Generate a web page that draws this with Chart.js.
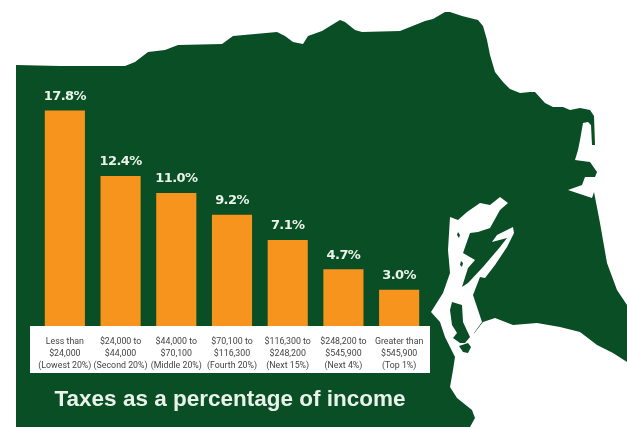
<!DOCTYPE html>
<html>
<head>
<meta charset="utf-8">
<style>html,body{margin:0;padding:0;background:#fff}canvas{display:block}</style>
<script src="https://cdn.jsdelivr.net/npm/chart.js@4"></script>
</head>
<body>
<canvas id="c" width="627" height="429"></canvas>
<script>
// Income brackets and the share of income paid in taxes
const categories = [
  ["Less than", "$24,000", "(Lowest 20%)"],
  ["$24,000 to", "$44,000", "(Second 20%)"],
  ["$44,000 to", "$70,100", "(Middle 20%)"],
  ["$70,100 to", "$116,300", "(Fourth 20%)"],
  ["$116,300 to", "$248,200", "(Next 15%)"],
  ["$248,200 to", "$545,900", "(Next 4%)"],
  ["Greater than", "$545,900", "(Top 1%)"]
];
const taxShare = [17.8, 12.4, 11.0, 9.2, 7.1, 4.7, 3.0];
const chartTitle = "Taxes as a percentage of income";

const GREEN = "#0a4e25", ORANGE = "#f7941d", PALE = "#eaf3ea";

// State silhouette behind the chart
const landOutline = [[16,65],[60,66],[95,66],[125,66],[135,62],[148,52],[165,50],[178,45],[222,44],[233,36],[277,32],[285,36],[293,42],[303,44],[308,36],[322,31],[335,23],[340,20],[345,22],[355,30],[362,32],[400,31],[410,27],[425,21],[433,19],[445,12],[450,12],[462,16],[478,20],[483,26],[487,40],[490,55],[495,72],[503,82],[510,89],[520,93],[530,92],[535,92],[545,103],[553,107],[563,107],[570,110],[580,108],[590,110],[594,116],[595,145],[592,145],[591,125],[588,122],[583,123],[580,140],[578,150],[575,160],[590,162],[597,172],[595,177],[585,177],[582,185],[568,190],[592,198],[594,192],[600,223],[607,263],[617,290],[627,305],[627,362],[613,353],[597,345],[580,332],[560,327],[537,323],[513,325],[495,318],[483,322],[465,345],[455,357],[453,370],[450,387],[457,398],[472,410],[475,418],[470,427],[16,427]];

// Sound and river inlets, cut out of the land in white
const inlet = [[508,203],[500,210],[490,228],[478,232],[470,233],[463,253],[475,260],[468,268],[462,287],[468,283],[483,267],[500,247],[507,238],[492,242],[497,235],[513,227],[514,233],[507,247],[495,265],[485,278],[480,277],[473,295],[478,310],[482,322],[474,333],[473,347],[467,353],[455,357],[445,337],[440,322],[431,312],[443,293],[450,273],[448,250],[450,217],[458,220],[467,212],[480,203],[490,205],[500,197]];

// Small islands lying inside the inlet
const islands = [
  [[452,302],[462,305],[463,322],[470,337],[465,343],[460,343],[453,338],[457,333],[452,325],[450,310]],
  [[459,346],[468,343],[471,347],[468,353],[463,352]],
  [[458,232],[460,235],[459,238],[457,235]],
  [[461,261],[463,263],[462,267],[460,265]]
];

function tracePolygon(ctx, pts) {
  ctx.beginPath();
  pts.forEach(([x, y], i) => i ? ctx.lineTo(x, y) : ctx.moveTo(x, y));
  ctx.closePath();
  ctx.fill();
}

const backdrop = {
  id: "backdrop",
  afterLayout(chart) {
    // nudge the caption slightly left of the plot's centre
    chart.titleBlock.left -= 2;
    chart.titleBlock.right -= 2;
  },
  beforeDraw(chart) {
    const { ctx, chartArea: a } = chart;
    ctx.save();
    ctx.fillStyle = GREEN;
    tracePolygon(ctx, landOutline);
    ctx.fillStyle = "#fff";
    tracePolygon(ctx, inlet);
    ctx.fillStyle = GREEN;
    islands.forEach(p => tracePolygon(ctx, p));
    // white strip holding the bracket labels
    ctx.fillStyle = "#fff";
    ctx.fillRect(30, a.bottom, 400, 47);
    ctx.restore();
  }
};

const valueLabels = {
  id: "valueLabels",
  afterDatasetsDraw(chart) {
    const { ctx } = chart;
    ctx.save();
    ctx.font = "bold 13px 'DejaVu Sans'";
    ctx.letterSpacing = "-0.6px";
    ctx.fillStyle = PALE;
    ctx.textAlign = "center";
    ctx.textBaseline = "middle";
    chart.getDatasetMeta(0).data.forEach((bar, i) => {
      ctx.fillText(taxShare[i].toFixed(1) + "%", bar.x, bar.y - 14);
    });
    ctx.restore();
  }
};

new Chart(document.getElementById("c"), {
  type: "bar",
  data: {
    labels: categories,
    datasets: [{
      data: taxShare,
      backgroundColor: ORANGE,
      borderWidth: 0,
      barPercentage: 0.72,
      categoryPercentage: 1
    }]
  },
  options: {
    responsive: false,
    animation: false,
    layout: { padding: { left: 37, right: 200, top: 84, bottom: 0 } },
    plugins: {
      legend: { display: false },
      tooltip: { enabled: false },
      title: {
        display: true,
        text: chartTitle,
        position: "bottom",
        fullSize: false,
        color: PALE,
        font: { family: "'Liberation Sans'", size: 22.5, weight: "bold", lineHeight: 1.2 },
        padding: { top: 13, bottom: 16 }
      }
    },
    scales: {
      y: { display: false, min: 0, max: 20 },
      x: {
        grid: { display: false },
        border: { display: false },
        afterFit(scale) { scale.height = 47; },
        ticks: {
          autoSkip: false,
          maxRotation: 0,
          padding: 2,
          color: "#444444",
          font: { family: "Roboto", size: 8.8, lineHeight: 1.34 }
        }
      }
    }
  },
  plugins: [backdrop, valueLabels]
});
</script>
</body>
</html>
